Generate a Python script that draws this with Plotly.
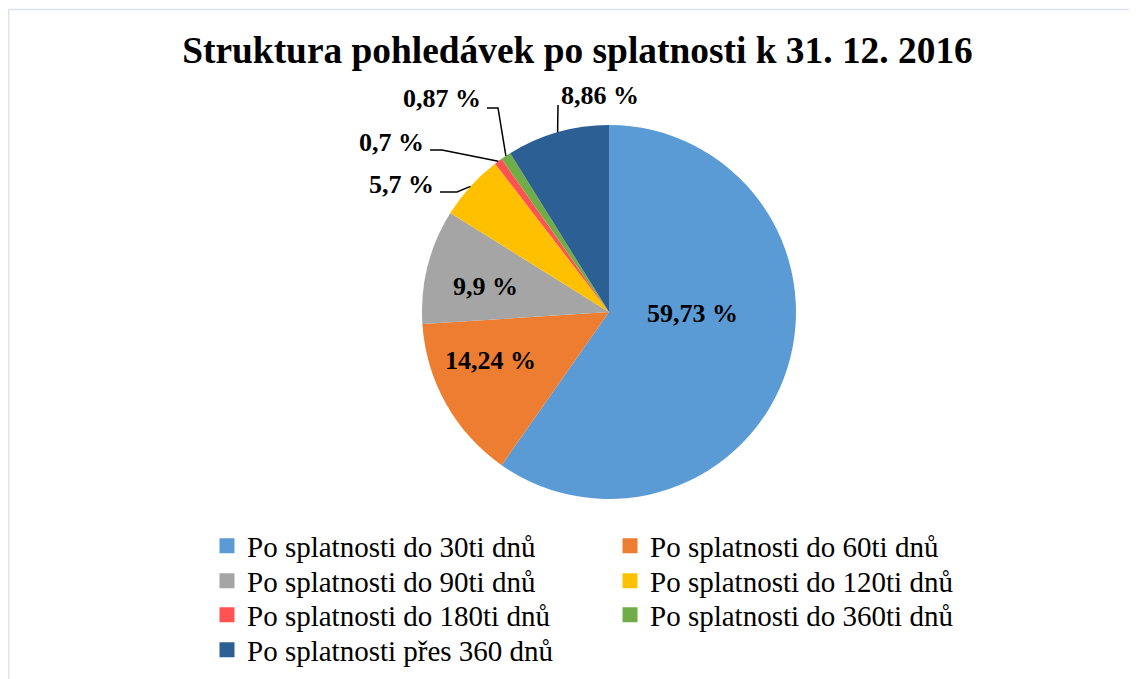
import math
import plotly.graph_objects as go

# ---------------- data ----------------
categories = [
    "Po splatnosti do 30ti dnů",
    "Po splatnosti do 60ti dnů",
    "Po splatnosti do 90ti dnů",
    "Po splatnosti do 120ti dnů",
    "Po splatnosti do 180ti dnů",
    "Po splatnosti do 360ti dnů",
    "Po splatnosti přes 360 dnů",
]
values = [59.73, 14.24, 9.9, 5.7, 0.7, 0.87, 8.86]
value_labels = ["59,73 %", "14,24 %", "9,9 %", "5,7 %", "0,7 %", "0,87 %", "8,86 %"]
title_text = "Struktura pohledávek po splatnosti k 31. 12. 2016"

# ---------------- style / layout ----------------
colors = ["#5b9bd5", "#ed7d31", "#a5a5a5", "#ffc000", "#ff5353", "#70ad47", "#2c5f94"]
W, H = 1137, 679
OFF = 8                              # page body margin of the html page
CX, CY, R = 609, 312, 187            # pie centre / radius in screen pixels
FONT = "Liberation Serif, Times New Roman, serif"
# label layout (screen pixels)
inside_layout = {
    0: (692, 313),
    1: (490, 360),
    2: (485, 286),
}
outside_layout = {
    3: dict(elbow=(457, 192), end=(440, 192), text=(436, 185), side="right"),
    4: dict(elbow=(442, 150), end=(430, 150), text=(426, 143), side="right"),
    5: dict(elbow=(498, 108), end=(487, 108), text=(483, 99), side="right"),
    6: dict(elbow=None, end=(558, 105), text=(559, 96), side="left"),
}
legend_rows_y = [546, 581, 615, 650]
legend_x_px = 207
entry_w = 358


def px(x):
    return (x - OFF) / W


def py(y):
    return 1 - (y - OFF) / H


fig = go.Figure()

fig.add_trace(go.Pie(
    labels=categories,
    values=values,
    textinfo="none",
    marker=dict(colors=colors, line=dict(width=0)),
    sort=False,
    direction="clockwise",
    rotation=0,
    showlegend=False,
    hoverinfo="label+percent",
    domain=dict(x=[px(CX - R), px(CX + R)], y=[py(CY + R), py(CY - R)]),
))

label_font = dict(family=FONT, size=26, color="black", weight="bold")

# data labels; leader lines for the small slices start at the slice edge (from values)
total = sum(values)
cum = 0.0
shapes = []
annotations = []
for i, v in enumerate(values):
    mid = (cum + v / 2) / total * 2 * math.pi
    cum += v
    if i in inside_layout:
        tx, ty = inside_layout[i]
        annotations.append(dict(x=px(tx), y=py(ty), xref="paper", yref="paper",
                                text=value_labels[i], showarrow=False,
                                xanchor="center", yanchor="middle", font=label_font))
        continue
    lay = outside_layout[i]
    ex, ey = CX + R * math.sin(mid), CY - R * math.cos(mid)
    pts = [(ex, ey)]
    if lay["elbow"] is not None:
        pts.append(lay["elbow"])
    pts.append(lay["end"])
    path = "M " + " L ".join(f"{px(a):.5f},{py(b):.5f}" for a, b in pts)
    shapes.append(dict(type="path", path=path, xref="paper", yref="paper",
                       line=dict(color="black", width=1.5)))
    tx, ty = lay["text"]
    annotations.append(dict(x=px(tx), y=py(ty), xref="paper", yref="paper",
                            text=value_labels[i], showarrow=False,
                            xanchor=lay["side"], yanchor="middle", font=label_font))

# chart border
shapes.append(dict(type="rect", xref="paper", yref="paper",
                   x0=px(8.7), x1=1.01, y0=-0.02, y1=py(9.5),
                   line=dict(color="#dde2ea", width=1.5), fillcolor="rgba(0,0,0,0)"))

# legend entries (two per row, one legend per row)
legend_defs = {}
for i, (cat, col) in enumerate(zip(categories, colors)):
    row = i // 2
    lname = "legend" if row == 0 else f"legend{row + 1}"
    fig.add_trace(go.Scatter(
        x=[None], y=[None], mode="markers", name=cat,
        marker=dict(symbol="square", size=15, color=col),
        legend=lname, showlegend=True, hoverinfo="skip",
    ))
    legend_defs[lname] = dict(
        orientation="h", x=px(legend_x_px), xanchor="left",
        y=py(legend_rows_y[row]), yanchor="middle",
        entrywidth=entry_w, entrywidthmode="pixels",
        font=dict(family=FONT, size=29, color="black"),
        bgcolor="rgba(0,0,0,0)", borderwidth=0, traceorder="normal",
    )

fig.update_layout(
    width=W, height=H,
    margin=dict(l=0, r=0, t=0, b=0),
    font=dict(family=FONT, color="black"),
    paper_bgcolor="white", plot_bgcolor="white",
    title=dict(text=title_text, x=px(577.5), y=py(50), xanchor="center", yanchor="middle",
               font=dict(family=FONT, size=37.4, color="black", weight="bold")),
    xaxis=dict(visible=False), yaxis=dict(visible=False),
    shapes=shapes, annotations=annotations,
    **legend_defs,
)

fig.write_html("out.html")
